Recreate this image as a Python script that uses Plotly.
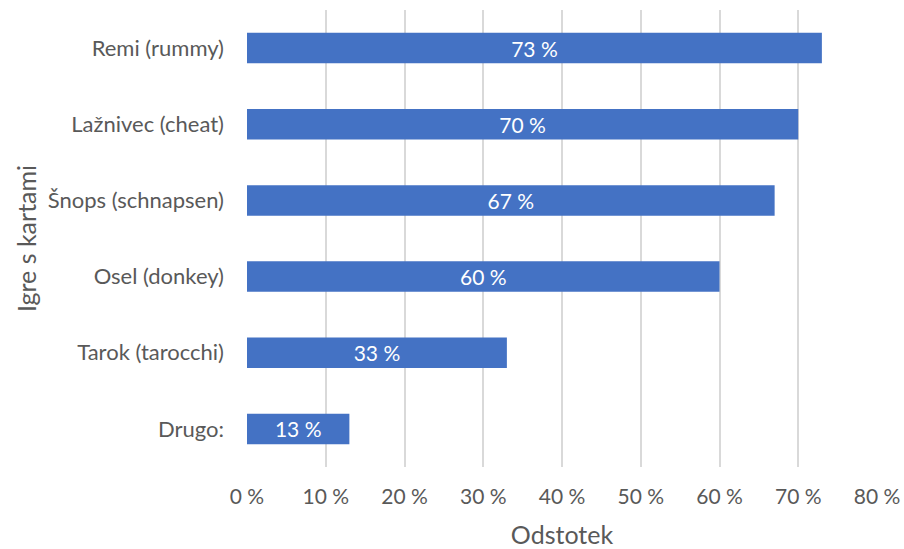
import plotly.graph_objects as go

# Card games and share of respondents who play them
games = ["Drugo:", "Tarok (tarocchi)", "Osel (donkey)", "Šnops (schnapsen)",
         "Lažnivec (cheat)", "Remi (rummy)"]
shares = [13, 33, 60, 67, 70, 73]
tick_vals = [0, 10, 20, 30, 40, 50, 60, 70, 80]
tick_text = [f"{v} %" for v in tick_vals]

FONT = "Lato, Calibri, 'Open Sans', sans-serif"
TEXT_COLOR = "#595959"

fig = go.Figure(go.Bar(
    x=shares,
    y=games,
    orientation="h",
    marker=dict(color="#4472C4", line=dict(width=0)),
    text=[f"{v} %" for v in shares],
    textposition="inside",
    insidetextanchor="middle",
    textangle=0,
    textfont=dict(color="white", size=21, family=FONT),
    hoverinfo="skip",
))

fig.update_layout(
    width=904,
    height=549,
    margin=dict(l=247, r=27, t=10, b=82),
    paper_bgcolor="white",
    plot_bgcolor="white",
    bargap=0.6,
    showlegend=False,
    font=dict(family=FONT, color=TEXT_COLOR, size=21),
    uniformtext=dict(minsize=21, mode="show"),
)

fig.update_xaxes(
    range=[0, 80],
    tickvals=tick_vals,
    ticktext=tick_text,
    showgrid=True,
    gridcolor="#D9D9D9",
    gridwidth=1.5,
    zeroline=False,
    showline=False,
    ticks="",
    ticklabelstandoff=15,
    tickfont=dict(size=21, color=TEXT_COLOR),
    title=dict(text="Odstotek", font=dict(size=25, color=TEXT_COLOR), standoff=20),
    automargin=False,
    fixedrange=True,
)

fig.update_yaxes(
    categoryorder="array",
    categoryarray=games,
    showgrid=False,
    zeroline=False,
    showline=False,
    ticks="",
    ticklabelstandoff=22,
    tickfont=dict(size=22, color=TEXT_COLOR),
    title=dict(text="Igre s kartami", font=dict(size=25, color=TEXT_COLOR), standoff=4),
    automargin=False,
    fixedrange=True,
)

fig.write_html("out.html")
